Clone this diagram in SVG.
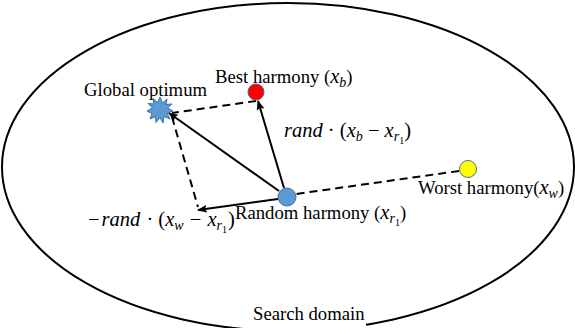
<svg xmlns="http://www.w3.org/2000/svg" width="575" height="328" viewBox="0 0 575 328">
<style>
text{font-family:'Liberation Serif','Times New Roman','DejaVu Serif',serif}
.t{font-size:18.7px;fill:#000}
.m{font-size:20.5px;font-style:italic;fill:#000}
.u{font-style:normal}
.s{font-size:14px}
.ss{font-size:10px;font-style:normal}
.sol{stroke:#000;stroke-width:2;fill:none}
.dash{stroke:#000;stroke-width:2;fill:none;stroke-dasharray:8 5}
</style>
<defs>
<marker id="ah" markerUnits="userSpaceOnUse" markerWidth="10" markerHeight="8" refX="9" refY="4" orient="auto">
<path d="M0,0 L10,4 L0,8 L2,4 z" fill="#000"/>
</marker>
</defs>
<rect width="575" height="328" fill="#fff"/>
<g id="domain">
<ellipse cx="288" cy="167" rx="286" ry="164" fill="none" stroke="#000" stroke-width="2"/>
<rect x="250" y="304" width="116" height="24" fill="#fff"/>
<text class="t" x="253" y="320">Search domain</text>
</g>
<g id="connectors">
<line class="dash" x1="459" y1="171" x2="296" y2="194"/>
<line class="dash" x1="256" y1="101" x2="172" y2="113"/>
<line class="dash" x1="172" y1="117" x2="198" y2="207"/>
<line class="sol" x1="284" y1="188" x2="258" y2="101" marker-end="url(#ah)"/>
<line class="sol" x1="279" y1="191" x2="169" y2="113" marker-end="url(#ah)"/>
<line class="sol" x1="278" y1="199" x2="198" y2="210" marker-end="url(#ah)"/>
</g>
<g id="global">
<polygon points="160,97 162.5,103 167,99 166,104.5 172,104 167.5,108 173,111 167,113 170,119 164,116.5 163,123 160,117.5 156,122.5 155.5,116.5 150,119 152,113.5 147,111 152.5,108 148,103.5 154,104 153,98.5 157.5,102.5" fill="#5B9BD5" stroke="#41719C" stroke-width="1"/>
<text class="t" x="84" y="96">Global optimum</text>
</g>
<g id="best">
<circle cx="256" cy="92" r="8" fill="#FF0000" stroke="#41719C" stroke-width="1"/>
<text class="t" x="215" y="83">Best harmony (<tspan class="m">x<tspan class="s" dy="4">b</tspan></tspan><tspan dy="-4">)</tspan></text>
</g>
<g id="worst">
<circle cx="468" cy="169" r="8.5" fill="#FFFF00" stroke="#41719C" stroke-width="1"/>
<text class="t" x="418" y="194">Worst harmony(<tspan class="m">x<tspan class="s" dy="4">w</tspan></tspan><tspan dy="-4">)</tspan></text>
</g>
<g id="random">
<circle cx="287" cy="197" r="9" fill="#5B9BD5" stroke="#41719C" stroke-width="1"/>
<text class="t" x="235" y="219">Random harmony (<tspan class="m">x<tspan class="s" dy="4">r</tspan><tspan class="ss" dy="3">1</tspan></tspan><tspan dy="-7">)</tspan></text>
</g>
<g id="label-best">
<text class="m" x="284" y="137">rand<tspan class="u"> · (</tspan>x<tspan class="s" dy="4">b</tspan><tspan class="u" dy="-4"> − </tspan>x<tspan class="s" dy="4">r</tspan><tspan class="ss" dy="3">1</tspan><tspan class="u" dy="-7">)</tspan></text>
</g>
<g id="label-worst">
<text class="m" x="88" y="226"><tspan class="u">−</tspan><tspan dx="2">rand</tspan><tspan class="u" dx="1"> · (</tspan>x<tspan class="s" dy="4">w</tspan><tspan class="u" dy="-4" dx="1"> − </tspan><tspan dx="1">x</tspan><tspan class="s" dy="4">r</tspan><tspan class="ss" dy="3">1</tspan><tspan class="u" dy="-7" dx="1">)</tspan></text>
</g>
</svg>
